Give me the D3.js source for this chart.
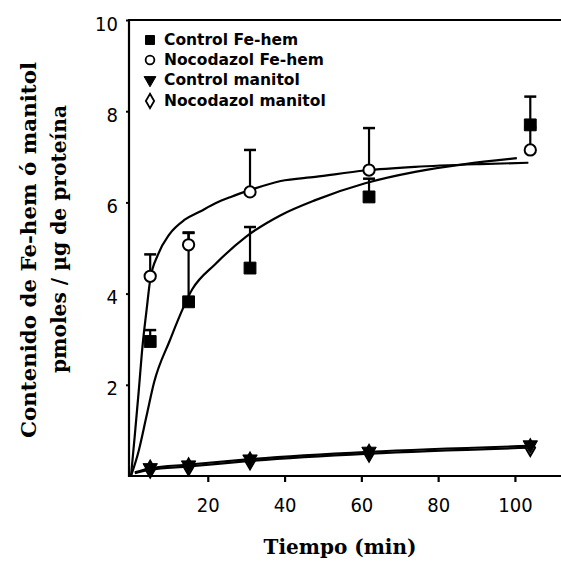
<!DOCTYPE html>
<html><head><meta charset="utf-8">
<script src="https://cdn.jsdelivr.net/npm/d3@7"></script>
<style>html,body{margin:0;padding:0;background:#fff;}svg{display:block;}</style>
</head><body>
<script>
// ---- data ----
const times = [5, 15, 31, 62, 104];
const controlFeHem = [2.95, 3.82, 4.56, 6.12, 7.70];
const controlFeHemErr = [0.25, 1.52, 0.90, 0.40, 0.62];
const nocodazolFeHem = [4.38, 5.07, 6.23, 6.71, 7.15];
const nocodazolFeHemErr = [0.48, 0.26, 0.92, 0.92, 0.50];
const controlManitol = [0.18, 0.24, 0.37, 0.54, 0.68];
const nocodazolManitol = [0.15, 0.20, 0.33, 0.50, 0.62];

// fitted curves
const fitNocT = [0, 1, 2, 3, 4, 5, 7, 10, 14, 18, 22, 26, 31, 39, 48, 61, 74, 91, 103.5];
const fitNocY = [0, 0.9, 1.85, 2.85, 3.6, 4.3, 4.85, 5.3, 5.62, 5.8, 5.98, 6.12, 6.27, 6.47, 6.56, 6.7, 6.78, 6.84, 6.87];
const fitCtrlT = [0, 2, 4, 6, 10, 16, 22, 30, 39, 48, 61, 74, 87, 100.5];
const fitCtrlY = [0, 0.55, 1.3, 2.05, 2.95, 4.1, 4.65, 5.25, 5.72, 6.05, 6.42, 6.67, 6.84, 6.97];
const fitManCtrlT = [1, 5, 15, 31, 62, 104];
const fitManCtrlY = [0.08, 0.17, 0.25, 0.37, 0.53, 0.66];
const fitManNocT = [1, 5, 15, 31, 62, 104];
const fitManNocY = [0.06, 0.14, 0.21, 0.33, 0.49, 0.62];

const xTicks = [20, 40, 60, 80, 100];
const yTicks = [2, 4, 6, 8, 10];
const legendLabels = ["Control Fe-hem", "Nocodazol Fe-hem", "Control manitol", "Nocodazol manitol"];
const xTitle = "Tiempo (min)";
const yTitle1 = "Contenido de Fe-hem ó manitol";
const yTitle2 = "pmoles / µg de proteína";

// ---- drawing ----
const W = 561, H = 561;
const svg = d3.select("body").append("svg").attr("width", W).attr("height", H);
const x = d3.scaleLinear().domain([0, 112]).range([131, 561]);
const y = d3.scaleLinear().domain([0, 10]).range([476, 20]);
const axisX0 = 129;

// axes lines
svg.append("line").attr("x1", axisX0).attr("x2", W).attr("y1", y(0)).attr("y2", y(0)).attr("stroke", "#000").attr("stroke-width", 2.2);
svg.append("line").attr("x1", axisX0).attr("x2", W).attr("y1", y(10)).attr("y2", y(10)).attr("stroke", "#000").attr("stroke-width", 2.2);
svg.append("line").attr("x1", axisX0).attr("x2", axisX0).attr("y1", y(10) - 1).attr("y2", y(0) + 1).attr("stroke", "#000").attr("stroke-width", 2.2);

const tickFont = "'Liberation Sans Narrow','DejaVu Sans Condensed','DejaVu Sans',sans-serif";
const gx = svg.append("g").attr("transform", `translate(0,${y(0)})`)
  .call(d3.axisBottom(x).tickValues(xTicks).tickSize(6).tickPadding(16).tickFormat(d3.format("d")));
gx.select(".domain").remove();
gx.selectAll(".tick line").attr("stroke-width", 2.2);
gx.selectAll("text").attr("font-family", tickFont).attr("font-size", 20).attr("fill", "#000");

const gy = svg.append("g").attr("transform", `translate(${axisX0},0)`)
  .call(d3.axisLeft(y).tickValues(yTicks).tickSize(3).tickPadding(8).tickFormat(d3.format("d")));
gy.select(".domain").remove();
gy.selectAll(".tick line").attr("stroke-width", 2);
gy.selectAll("text").attr("font-family", tickFont).attr("font-size", 20).attr("fill", "#000").attr("dy", "0.5em");

// titles
svg.append("text").attr("x", 340).attr("y", 554).attr("text-anchor", "middle")
  .attr("font-family", "'DejaVu Serif',serif").attr("font-weight", "bold").attr("font-size", 20).text(xTitle);
svg.append("text").attr("transform", "translate(36,250) rotate(-90)").attr("text-anchor", "middle")
  .attr("font-family", "'DejaVu Serif',serif").attr("font-weight", "bold").attr("font-size", 21)
  .attr("textLength", 376).attr("lengthAdjust", "spacingAndGlyphs").text(yTitle1);
svg.append("text").attr("transform", "translate(66,239) rotate(-90)").attr("text-anchor", "middle")
  .attr("font-family", "'DejaVu Serif',serif").attr("font-weight", "bold").attr("font-size", 21)
  .attr("textLength", 268).attr("lengthAdjust", "spacingAndGlyphs").text(yTitle2);

// curves
const line = d3.line().x(d => x(d[0])).y(d => y(d[1])).curve(d3.curveMonotoneX);
function drawFit(ts, vs) {
  svg.append("path").datum(d3.zip(ts, vs)).attr("d", line).attr("fill", "none").attr("stroke", "#000").attr("stroke-width", 2.2);
}
drawFit(fitNocT, fitNocY);
drawFit(fitCtrlT, fitCtrlY);
drawFit(fitManCtrlT, fitManCtrlY);
drawFit(fitManNocT, fitManNocY);

// error bars (upper only)
function errBars(vals, errs) {
  vals.forEach((v, i) => {
    const cx = x(times[i]);
    svg.append("line").attr("x1", cx).attr("x2", cx).attr("y1", y(v)).attr("y2", y(v + errs[i])).attr("stroke", "#000").attr("stroke-width", 2.2);
    svg.append("line").attr("x1", cx - 6).attr("x2", cx + 6).attr("y1", y(v + errs[i])).attr("y2", y(v + errs[i])).attr("stroke", "#000").attr("stroke-width", 2.5);
  });
}
errBars(controlFeHem, controlFeHemErr);
errBars(nocodazolFeHem, nocodazolFeHemErr);

// markers
const sym = {
  square: d3.symbol().type(d3.symbolSquare).size(140),
  circle: d3.symbol().type(d3.symbolCircle).size(100),
  tri: d3.symbol().type(d3.symbolTriangle).size(90),
  diamond: d3.symbol().type(d3.symbolDiamond).size(80)
};
function markers(vals, kind, filled) {
  svg.append("g").selectAll("path").data(vals).join("path")
    .attr("d", sym[kind])
    .attr("transform", (d, i) => `translate(${x(times[i])},${y(d)})` + (kind === "tri" ? " rotate(180)" : ""))
    .attr("fill", filled ? "#000" : "#fff").attr("stroke", "#000").attr("stroke-width", filled ? 1 : 2);
}
markers(nocodazolManitol, "diamond", false);
markers(controlManitol, "tri", true);
markers(controlFeHem, "square", true);
markers(nocodazolFeHem, "circle", false);

// legend
const legKinds = [["square", true], ["circle", false], ["tri", true], ["diamond", false]];
const legY = [40, 60, 80, 101];
const lg = svg.append("g");
legendLabels.forEach((lab, i) => {
  const k = legKinds[i];
  const s = d3.symbol().type({square: d3.symbolSquare, circle: d3.symbolCircle, tri: d3.symbolTriangle, diamond: d3.symbolDiamond}[k[0]]).size(k[0] === "square" ? 80 : 60);
  lg.append("path").attr("d", s).attr("transform", `translate(150,${legY[i]})` + (k[0] === "tri" ? " rotate(180)" : ""))
    .attr("fill", k[1] ? "#000" : "#fff").attr("stroke", "#000").attr("stroke-width", k[1] ? 1 : 1.8);
  lg.append("text").attr("x", 164).attr("y", legY[i]).attr("dy", "0.35em")
    .attr("font-family", "'DejaVu Sans',sans-serif").attr("font-weight", "bold").attr("font-size", 15.5).text(lab);
});
</script>
</body></html>
